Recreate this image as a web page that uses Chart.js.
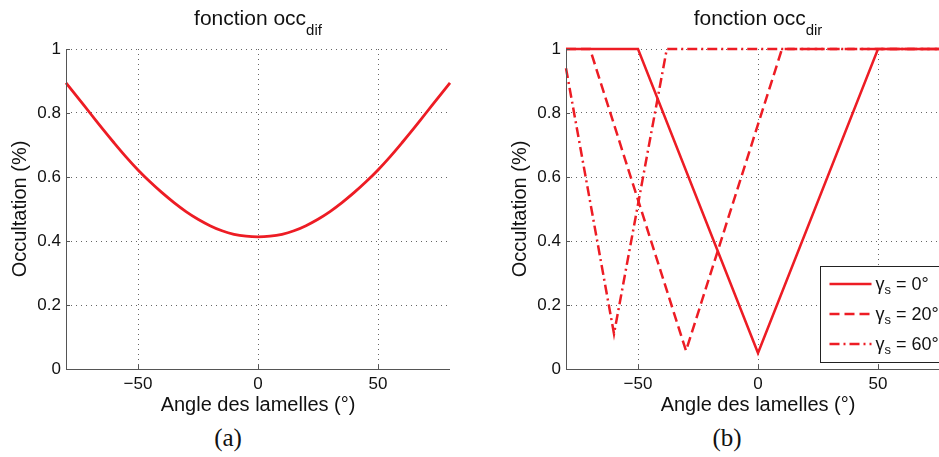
<!DOCTYPE html>
<html>
<head>
<meta charset="utf-8">
<script src="https://cdn.jsdelivr.net/npm/chart.js@4.4.0/dist/chart.umd.min.js"></script>
<style>
body{margin:0;width:939px;height:457px;overflow:hidden;background:#fff;position:relative}
canvas{position:absolute;top:0}
.cap{position:absolute;top:424px;width:100px;text-align:center;font:25px 'Liberation Serif',serif;color:#111}
</style>
</head>
<body>
<canvas id="chartA" width="470" height="420" style="left:0"></canvas>
<canvas id="chartB" width="500" height="420" style="left:470px"></canvas>
<div class="cap" style="left:178px">(a)</div>
<div class="cap" style="left:677px">(b)</div>
<script>
// (a) diffuse occultation vs slat angle
let angleDif=[-80,-75,-70,-65,-60,-55,-50,-45,-40,-35,-30,-25,-20,-15,-10,-5,0,5,10,15,20,25,30,35,40,45,50,55,60,65,70,75,80]
let occDif=[0.894,0.847,0.800,0.753,0.707,0.663,0.622,0.585,0.551,0.520,0.492,0.468,0.448,0.432,0.421,0.415,0.413,0.415,0.421,0.432,0.448,0.468,0.492,0.520,0.551,0.585,0.622,0.663,0.707,0.753,0.800,0.847,0.894]

// (b) direct occultation, one series per solar azimuth
let gammas=[0,20,60]
let angle0=[-80,-50,0,50,80]
let occ0=[1,1,0.05,1,1]
let angle20=[-80,-70,-30,10,80]
let occ20=[1,1,0.057,1,1]
let angle60=[-80,-60,-38,80]
let occ60=[0.94,0.11,1,1]

let xTicks=[-50,0,50]
let xTickLabels=['\u221250','0','50']
let yTicks=[0,0.2,0.4,0.6,0.8,1]
let yTickLabels=['0','0.2','0.4','0.6','0.8','1']

let red='#ed1c24'
let font="'Liberation Sans', Arial, sans-serif"
Chart.defaults.font.family=font
Chart.defaults.color='#111'

let pts=(xs,ys)=>xs.map((x,i)=>({x:x,y:ys[i]}))

// title with subscript + matlab-like axis lines and inward ticks
let framePlugin={
    id:'frame',
    afterDraw(chart,args,opts){
        let ctx=chart.ctx, a=chart.chartArea
        ctx.save()
        ctx.fillStyle='#111'
        ctx.textBaseline='alphabetic'
        let main='fonction occ'
        ctx.font='21px '+font
        let w1=ctx.measureText(main).width
        ctx.font='15px '+font
        let w2=ctx.measureText(opts.sub).width
        let x0=(a.left+a.right)/2-(w1+w2)/2
        ctx.font='21px '+font
        ctx.fillText(main,x0,25)
        ctx.font='15px '+font
        ctx.fillText(opts.sub,x0+w1,35)

        ctx.strokeStyle='#555'
        ctx.lineWidth=1
        ctx.beginPath()
        ctx.moveTo(a.left+0.5,a.top)
        ctx.lineTo(a.left+0.5,a.bottom+0.5)
        ctx.lineTo(a.right,a.bottom+0.5)
        ctx.stroke()
        let sx=chart.scales.x, sy=chart.scales.y
        ctx.beginPath()
        yTicks.forEach(v=>{
            let y=Math.round(sy.getPixelForValue(v))+0.5
            ctx.moveTo(a.left,y); ctx.lineTo(a.left+4,y)
        })
        xTicks.forEach(v=>{
            let x=Math.round(sx.getPixelForValue(v))+0.5
            ctx.moveTo(x,a.bottom); ctx.lineTo(x,a.bottom-4)
        })
        ctx.stroke()
        ctx.restore()
    }
}

let legendPlugin={
    id:'gammaLegend',
    afterDraw(chart){
        let ctx=chart.ctx, a=chart.chartArea
        let bx=Math.round(a.right-130)+0.5, by=Math.round(a.top+217)+0.5
        ctx.save()
        ctx.fillStyle='#fff'
        ctx.fillRect(bx,by,140,96)
        ctx.strokeStyle='#222'
        ctx.lineWidth=1
        ctx.strokeRect(bx,by,140,96)
        chart.data.datasets.forEach((ds,i)=>{
            let y=by+17.5+30*i
            ctx.strokeStyle=ds.borderColor
            ctx.lineWidth=2.5
            ctx.setLineDash(ds.borderDash||[])
            ctx.beginPath()
            ctx.moveTo(bx+9,y); ctx.lineTo(bx+51,y)
            ctx.stroke()
            ctx.setLineDash([])
            ctx.fillStyle='#111'
            let x=bx+55
            ctx.font='18px '+font
            ctx.fillText('\u03b3',x,y+6)
            x+=ctx.measureText('\u03b3').width
            ctx.font='13px '+font
            ctx.fillText('s',x,y+10)
            x+=ctx.measureText('s').width
            ctx.font='18px '+font
            ctx.fillText(' = '+gammas[i]+'\u00b0',x,y+6)
        })
        ctx.restore()
    }
}

function options(padLeft,sub){
    let grid={color:'rgba(0,0,0,0.6)',lineWidth:1,drawTicks:false}
    let border={display:false,dash:[1,4]}
    return {
        responsive:false,
        animation:false,
        layout:{padding:{top:49,left:padLeft,right:20,bottom:0}},
        plugins:{legend:{display:false},tooltip:{enabled:false},frame:{sub:sub}},
        elements:{point:{radius:0}},
        scales:{
            x:{
                type:'linear',min:-80,max:80,
                afterBuildTicks:s=>{s.ticks=xTicks.map(v=>({value:v}))},
                afterFit:s=>{s.height=51},
                ticks:{padding:5,autoSkip:false,maxRotation:0,font:{size:17},callback:(v,i)=>xTickLabels[i]},
                grid:grid,border:border,
                title:{display:true,text:'Angle des lamelles (\u00b0)',font:{size:20},padding:{top:0,bottom:3}}
            },
            y:{
                min:0,max:1,
                afterBuildTicks:s=>{s.ticks=yTicks.map(v=>({value:v}))},
                afterFit:s=>{s.width=66},
                ticks:{padding:5,autoSkip:false,font:{size:17},callback:(v,i)=>yTickLabels[i]},
                grid:grid,border:border,
                title:{display:true,text:'Occultation (%)',font:{size:20},padding:{top:8.5,bottom:0}}
            }
        }
    }
}

let chartA=new Chart(document.getElementById('chartA').getContext('2d'),{
    type:'line',
    data:{datasets:[{
        label:'occ dif',
        data:pts(angleDif,occDif),
        borderColor:red,borderWidth:2.8,
        tension:0.4,clip:5
    }]},
    options:options(0,'dif'),
    plugins:[framePlugin]
})

let chartB=new Chart(document.getElementById('chartB').getContext('2d'),{
    type:'line',
    data:{datasets:[
        {label:'\u03b3s = 0\u00b0',data:pts(angle0,occ0),borderColor:red,borderWidth:2.5,clip:5,order:1},
        {label:'\u03b3s = 20\u00b0',data:pts(angle20,occ20),borderColor:red,borderWidth:2.5,borderDash:[10,5],clip:5,order:2},
        {label:'\u03b3s = 60\u00b0',data:pts(angle60,occ60),borderColor:red,borderWidth:2.5,borderDash:[10,4,2,4],clip:5,order:3}
    ]},
    options:options(30,'dir'),
    plugins:[framePlugin,legendPlugin]
})
</script>
</body>
</html>
